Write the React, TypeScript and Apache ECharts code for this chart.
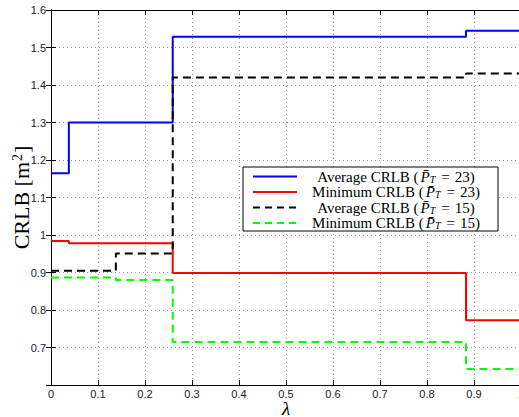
import React, { useEffect, useRef } from "react";
import * as echarts from "echarts";

const xTicks = [0, 0.1, 0.2, 0.3, 0.4, 0.5, 0.6, 0.7, 0.8, 0.9, 1];
const yTicks = [0.6, 0.7, 0.8, 0.9, 1, 1.1, 1.2, 1.3, 1.4, 1.5, 1.6];

const seriesKind = ["Average", "Minimum", "Average", "Minimum"];
const seriesPT = ["23", "23", "15", "15"];
const seriesNames = seriesKind.map((k, i) => `${k} CRLB (P̄T = ${seriesPT[i]})`);

// step breakpoints [lambda, CRLB]
const avg23: [number, number][] = [
  [0, 1.165],
  [0.038, 1.3],
  [0.259, 1.529],
  [0.883, 1.545],
  [1, 1.545],
];
const min23: [number, number][] = [
  [0, 0.984],
  [0.038, 0.978],
  [0.259, 0.899],
  [0.883, 0.773],
  [1, 0.773],
];
const avg15: [number, number][] = [
  [0, 0.905],
  [0.138, 0.951],
  [0.259, 1.42],
  [0.883, 1.431],
  [1, 1.431],
];
const min15: [number, number][] = [
  [0, 0.887],
  [0.138, 0.88],
  [0.259, 0.715],
  [0.883, 0.643],
  [1, 0.643],
];

const colors = ["#0000ff", "#ff0000", "#000000", "#00ff00"];
const dashed = [false, false, true, true];
const datasets = [avg23, min23, avg15, min15];

export default function App() {
  const ref = useRef<HTMLDivElement>(null);
  useEffect(() => {
    if (!ref.current) return;
    const chart = echarts.init(ref.current, undefined, { renderer: "svg" });
    const serif = "Liberation Serif";
    const sans = "Liberation Sans";
    const rich = {
      n: { fontFamily: serif, fontSize: 15, fill: "#000", lineHeight: 15 },
      i: { fontFamily: serif, fontStyle: "italic", fontSize: 15, fill: "#000", lineHeight: 15, padding: [0, 0, 0, 2] },
      s: { fontFamily: serif, fontStyle: "italic", fontSize: 10, fill: "#000", lineHeight: 12, verticalAlign: "bottom" },
      e: { fontFamily: serif, fontSize: 15, fill: "#000", lineHeight: 15, padding: [0, 5, 0, 6] },
    };
    const boxX = 243, boxY = 167, boxW = 255, boxH = 64;
    const rowY = [176.5, 192, 207.5, 223];
    const legendEls: any[] = [
      {
        type: "rect",
        shape: { x: boxX, y: boxY, width: boxW, height: boxH },
        style: { fill: "#fff", stroke: "#000", lineWidth: 1 },
        z: 100,
      },
    ];
    seriesKind.forEach((k, i) => {
      legendEls.push({
        type: "line",
        shape: { x1: 253, y1: rowY[i], x2: 297, y2: rowY[i] },
        style: { stroke: colors[i], lineWidth: 2, lineDash: dashed[i] ? [7, 5] : null },
        z: 101,
      });
      legendEls.push({
        type: "text",
        x: 396,
        y: rowY[i],
        style: {
          text: `{n|${k} CRLB (}{i|P\u0304}{s|T}{e|=}{n|${seriesPT[i]})}`,
          rich,
          align: "center",
          verticalAlign: "middle",
        },
        z: 101,
      });
    });
    const hiddenAxisBase = {
      type: "value",
      axisLine: { show: true, lineStyle: { color: "#000", width: 1 } },
      axisTick: { show: true, inside: true, length: 5, lineStyle: { color: "#000" } },
      axisLabel: { show: false },
      splitLine: { show: false },
    };
    chart.setOption({
      animation: false,
      backgroundColor: "#fff",
      grid: { left: 51, top: 10, width: 470, height: 375, containLabel: false, outerBoundsMode: "none" },
      graphic: legendEls,
      xAxis: [
        {
          type: "value",
          min: xTicks[0],
          max: xTicks[xTicks.length - 1],
          interval: 0.1,
          name: "λ",
          nameLocation: "middle",
          nameGap: 15,
          nameMoveOverlap: false,
          nameTextStyle: { fontFamily: serif, fontStyle: "italic", fontSize: 19, color: "#000", verticalAlign: "top", lineHeight: 16 },
          axisLine: { show: true, lineStyle: { color: "#000", width: 1 } },
          axisTick: { show: true, inside: true, length: 5, lineStyle: { color: "#000" } },
          axisLabel: {
            fontFamily: sans,
            fontSize: 11,
            lineHeight: 11,
            color: "#222",
            margin: 3,
            formatter: (v: number) => String(Math.round(v * 10) / 10),
          },
          splitLine: { show: true, lineStyle: { color: "#999", type: [1, 3], width: 1 } },
        },
        { ...hiddenAxisBase, min: 0, max: 1, interval: 0.1, position: "top" },
      ],
      yAxis: [
        {
          type: "value",
          min: yTicks[0],
          max: yTicks[yTicks.length - 1],
          interval: 0.1,
          name: "{n|CRLB [m}{sup|2}{n|]}",
          nameLocation: "middle",
          nameGap: 19,
          nameMoveOverlap: false,
          nameRotate: 90,
          nameTextStyle: {
            fontFamily: serif,
            fontSize: 22,
            color: "#000",
            rich: {
              n: { fontFamily: serif, fontSize: 22, color: "#000", lineHeight: 22 },
              sup: { fontFamily: serif, fontSize: 14, color: "#000", lineHeight: 22, verticalAlign: "top", padding: [0, 1, 6, 1] },
            },
          },
          axisLine: { show: true, lineStyle: { color: "#000", width: 1 } },
          axisTick: { show: true, inside: true, length: 5, lineStyle: { color: "#000" } },
          axisLabel: {
            fontFamily: sans,
            fontSize: 11,
            color: "#222",
            margin: 5,
            showMinLabel: false,
            formatter: (v: number) => String(Math.round(v * 10) / 10),
          },
          splitLine: { show: true, lineStyle: { color: "#999", type: [1, 3], width: 1 } },
        },
        { ...hiddenAxisBase, min: 0.6, max: 1.6, interval: 0.1, position: "right" },
      ],
      series: datasets.map((d, i) => ({
        name: seriesNames[i],
        type: "line",
        step: "end",
        data: d,
        showSymbol: false,
        symbol: "none",
        lineStyle: { color: colors[i], width: 2, type: dashed[i] ? [8, 5] : "solid" },
        itemStyle: { color: colors[i] },
        z: 2 + i,
      })),
    });
    return () => chart.dispose();
  }, []);
  return (
    <div
      ref={ref}
      style={{ position: "absolute", left: 0, top: 0, width: 519, height: 417 }}
    />
  );
}
